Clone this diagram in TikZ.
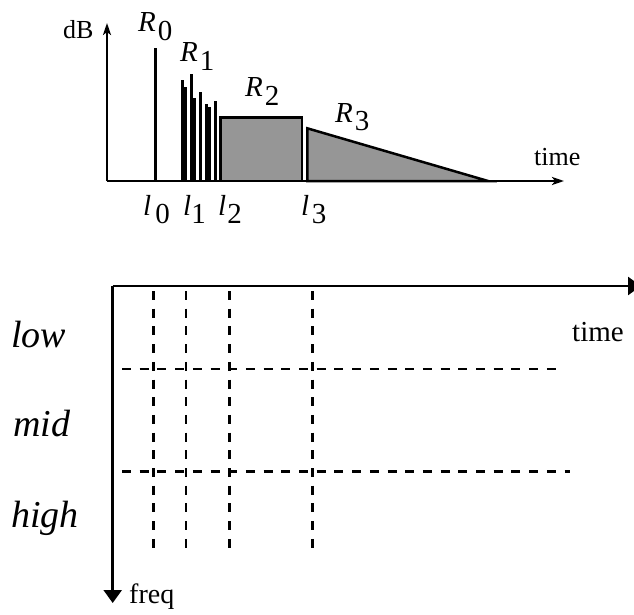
\documentclass[tikz,border=0pt]{standalone}
\usepackage{fontspec}
\setmainfont{Liberation Serif}
\usetikzlibrary{arrows.meta}
\newcommand{\sublab}[3]{{\itshape #1}\hspace{#3}\raisebox{-8.5pt}{#2}}
\tikzset{
  axis/.style={line width=2.5pt},
  spike/.style={line width=3pt},
  area/.style={line width=2.5pt, fill={rgb,255:red,150;green,150;blue,150}, line join=miter},
  grid/.style={line width=2.7pt, dash pattern=on 9pt off 8.7pt},
  toplab/.style={anchor=base west, inner sep=0pt, font=\fontsize{29}{34}\selectfont},
  biglab/.style={anchor=base west, inner sep=0pt, font=\fontsize{38}{42}\selectfont\itshape},
  axlab/.style={anchor=base west, inner sep=0pt, font=\fontsize{29}{34}\selectfont},
}
\begin{document}
\begin{tikzpicture}[x=1pt,y=-1pt]
\useasboundingbox (0,0) rectangle (634,615);
% ---------- top chart ----------
\coordinate (o) at (107,181);
\coordinate (dbtip) at (107,23);
\coordinate (ttip) at (564,181);
\draw[axis,-{Stealth[length=12pt,width=8pt,inset=3pt]}] (o) -- (dbtip);
\draw[axis,-{Stealth[length=12pt,width=8pt,inset=3pt]}] (o) -- (ttip);
\node[toplab, font=\fontsize{26}{30}\selectfont] (db) at (63,38.3) {dB};
\node[toplab, font=\fontsize{26}{30}\selectfont] (ttime) at (534,165) {time};
% R0 spike
\coordinate (s0b) at (155.5,181); \coordinate (s0t) at (155.5,47.7);
\draw[spike] (s0b) -- (s0t);
% R1 spikes
\foreach \x/\y [count=\i] in {182.7/80,185.7/86.7,191.3/74,194.3/98,200.3/92,206.3/104,209.3/107,215.3/101}{
  \coordinate (b\i) at (\x,181); \coordinate (t\i) at (\x,\y);
  \draw[spike] (b\i) -- (t\i);
}
% R2 block
\coordinate (r2a) at (220.7,181); \coordinate (r2b) at (302,117.3);
\draw[area] (r2a) rectangle (r2b);
% R3 ramp
\coordinate (r3a) at (307.3,181); \coordinate (r3b) at (307.3,128.3); \coordinate (r3c) at (488,181);
\draw[area] (r3a) -- (r3b) -- (r3c) -- cycle;
% labels
\node[toplab] (R0) at (138,31.7) {\sublab{R}{0}{2pt}};
\node[toplab] (R1) at (180,62) {\sublab{R}{1}{2pt}};
\node[toplab] (R2) at (245,97) {\sublab{R}{2}{2pt}};
\node[toplab] (R3) at (335,122) {\sublab{R}{3}{2pt}};
\node[toplab] (l0) at (143,215) {\sublab{l}{0}{4pt}};
\node[toplab] (l1) at (183,215) {\sublab{l}{1}{0pt}};
\node[toplab] (l2) at (218,215) {\sublab{l}{2}{1pt}};
\node[toplab] (l3) at (301,215) {\sublab{l}{3}{2.5pt}};
% ---------- bottom grid ----------
\coordinate (c) at (112.7,286);
\coordinate (xt) at (641,286);
\coordinate (yt) at (112.7,603);
\draw[axis,-{Triangle[length=13pt,width=18pt]}] (c) -- (xt);
\draw[axis,-{Triangle[length=13pt,width=18pt]}] (c) -- (yt);
\foreach \x [count=\i] in {153.3,186,229.3,312.7}{
  \coordinate (v\i a) at (\x,291); \coordinate (v\i b) at (\x,551);
  \draw[grid] (v\i a) -- (v\i b);
}
\coordinate (h1a) at (122,369); \coordinate (h1b) at (557,369);
\coordinate (h2a) at (122,471.7); \coordinate (h2b) at (570,471.7);
\draw[grid] (h1a) -- (h1b);
\draw[grid] (h2a) -- (h2b);
\node[biglab] (low) at (11,347) {low};
\node[biglab] (mid) at (13,436) {mid};
\node[biglab] (high) at (11,527) {high};
\node[axlab] (btime) at (572,341) {time};
\node[axlab, font=\fontsize{28}{32}\selectfont] (freq) at (129,603) {freq};
\end{tikzpicture}
\end{document}
